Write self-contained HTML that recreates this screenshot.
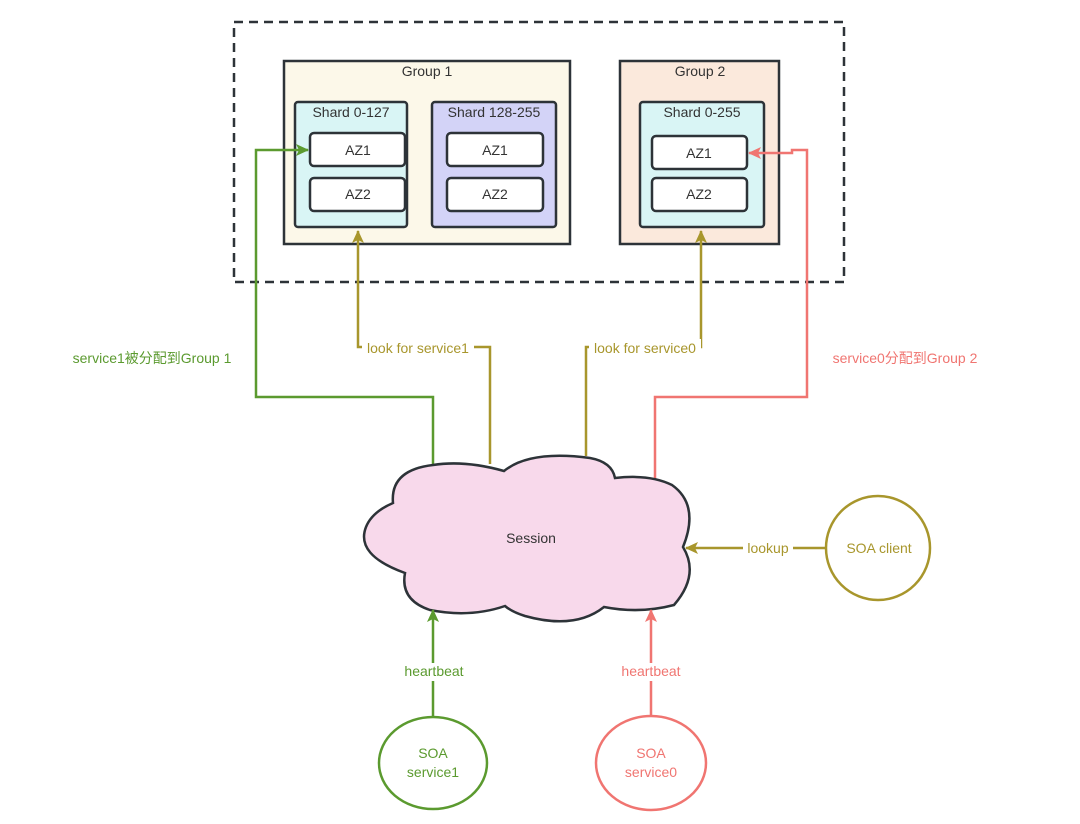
<!DOCTYPE html>
<html><head><meta charset="utf-8"><style>
html,body{margin:0;padding:0;background:#fff;}
svg{display:block;}
text{font-family:"Liberation Sans","Noto Sans CJK SC",sans-serif;font-size:14px;}
</style></head><body>
<svg width="1080" height="824" viewBox="0 0 1080 824" xmlns="http://www.w3.org/2000/svg">
<defs>
<marker id="ag" markerWidth="13" markerHeight="12" refX="12" refY="6" orient="auto" markerUnits="userSpaceOnUse"><path d="M0,0 L13,6 L0,12 L3,6 Z" fill="#5b9a2f"/></marker>
<marker id="ao" markerWidth="13" markerHeight="12" refX="12" refY="6" orient="auto" markerUnits="userSpaceOnUse"><path d="M0,0 L13,6 L0,12 L3,6 Z" fill="#a8962c"/></marker>
<marker id="ar" markerWidth="13" markerHeight="12" refX="12" refY="6" orient="auto" markerUnits="userSpaceOnUse"><path d="M0,0 L13,6 L0,12 L3,6 Z" fill="#f07571"/></marker>
</defs>
<rect x="234" y="22" width="610" height="260" fill="none" stroke="#2d3338" stroke-width="2.5" stroke-dasharray="9,6"/>
<!-- Group 1 -->
<rect x="284" y="61" width="286" height="183" fill="#fcf8e9" stroke="#2d3338" stroke-width="2.5"/>
<text x="427" y="76" text-anchor="middle" fill="#333">Group 1</text>
<rect x="295" y="102" width="112" height="125" rx="3" fill="#d9f5f5" stroke="#2d3338" stroke-width="2.5"/>
<text x="351" y="117" text-anchor="middle" fill="#333">Shard 0-127</text>
<rect x="310" y="133" width="95" height="33" rx="4" fill="#fff" stroke="#2d3338" stroke-width="2.5"/>
<text x="358" y="155" text-anchor="middle" fill="#333">AZ1</text>
<rect x="310" y="178" width="95" height="33" rx="4" fill="#fff" stroke="#2d3338" stroke-width="2.5"/>
<text x="358" y="199" text-anchor="middle" fill="#333">AZ2</text>
<rect x="432" y="102" width="124" height="125" rx="3" fill="#d3d3f7" stroke="#2d3338" stroke-width="2.5"/>
<text x="494" y="117" text-anchor="middle" fill="#333">Shard 128-255</text>
<rect x="447" y="133" width="96" height="33" rx="4" fill="#fff" stroke="#2d3338" stroke-width="2.5"/>
<text x="495" y="155" text-anchor="middle" fill="#333">AZ1</text>
<rect x="447" y="178" width="96" height="33" rx="4" fill="#fff" stroke="#2d3338" stroke-width="2.5"/>
<text x="495" y="199" text-anchor="middle" fill="#333">AZ2</text>
<!-- Group 2 -->
<rect x="620" y="61" width="159" height="183" fill="#fbe9dc" stroke="#2d3338" stroke-width="2.5"/>
<text x="700" y="76" text-anchor="middle" fill="#333">Group 2</text>
<rect x="640" y="102" width="124" height="125" rx="3" fill="#d9f5f5" stroke="#2d3338" stroke-width="2.5"/>
<text x="702" y="117" text-anchor="middle" fill="#333">Shard 0-255</text>
<rect x="652" y="136" width="95" height="33" rx="4" fill="#fff" stroke="#2d3338" stroke-width="2.5"/>
<text x="699" y="158" text-anchor="middle" fill="#333">AZ1</text>
<rect x="652" y="178" width="95" height="33" rx="4" fill="#fff" stroke="#2d3338" stroke-width="2.5"/>
<text x="699" y="199" text-anchor="middle" fill="#333">AZ2</text>
<!-- connectors -->
<polyline points="433,464 433,397 256,397 256,150 308,150" fill="none" stroke="#5b9a2f" stroke-width="2.5" marker-end="url(#ag)"/>
<polyline points="490,464 490,347 358,347 358,231" fill="none" stroke="#a8962c" stroke-width="2.5" marker-end="url(#ao)"/>
<polyline points="586,456 586,347 701,347 701,231" fill="none" stroke="#a8962c" stroke-width="2.5" marker-end="url(#ao)"/>
<polyline points="655,480 655,397 807,397 807,150 792,150 792,153 749,153" fill="none" stroke="#f07571" stroke-width="2.5" marker-end="url(#ar)"/>
<rect x="362" y="339" width="112" height="18" fill="#fff"/>
<text x="418" y="353" text-anchor="middle" fill="#a8962c">look for service1</text>
<rect x="589" y="339" width="112" height="18" fill="#fff"/>
<text x="645" y="353" text-anchor="middle" fill="#a8962c">look for service0</text>
<text x="152" y="363" text-anchor="middle" fill="#5b9a2f">service1被分配到Group 1</text>
<text x="905" y="363" text-anchor="middle" fill="#f07571">service0分配到Group 2</text>
<!-- cloud -->
<path d="M405,573 Q355,555 366,527 Q372,512 393,503 Q390,470 433,465 Q465,460 504,471 Q530,450 590,458 Q612,462 615,478 Q650,474 672,485 Q700,505 683,547 Q700,575 674,605 Q640,614 604,607 Q575,630 525,616 Q512,612 505,606 Q470,618 430,610 Q400,600 405,573 Z" fill="#f8d9eb" stroke="#2d3338" stroke-width="2.5"/>
<text x="531" y="543" text-anchor="middle" fill="#333">Session</text>
<!-- bottom -->
<line x1="433" y1="718" x2="433" y2="610" stroke="#5b9a2f" stroke-width="2.5" marker-end="url(#ag)"/>
<rect x="398" y="663" width="72" height="18" fill="#fff"/>
<text x="434" y="676" text-anchor="middle" fill="#5b9a2f">heartbeat</text>
<line x1="651" y1="716" x2="651" y2="610" stroke="#f07571" stroke-width="2.5" marker-end="url(#ar)"/>
<rect x="615" y="663" width="72" height="18" fill="#fff"/>
<text x="651" y="676" text-anchor="middle" fill="#f07571">heartbeat</text>
<line x1="826" y1="548" x2="686" y2="548" stroke="#a8962c" stroke-width="2.5" marker-end="url(#ao)"/>
<rect x="743" y="540" width="50" height="18" fill="#fff"/>
<text x="768" y="553" text-anchor="middle" fill="#a8962c">lookup</text>
<ellipse cx="878" cy="548" rx="52" ry="52" fill="#fff" stroke="#a8962c" stroke-width="2.5"/>
<text x="879" y="553" text-anchor="middle" fill="#a8962c">SOA client</text>
<ellipse cx="433" cy="763" rx="54" ry="46" fill="#fff" stroke="#5b9a2f" stroke-width="2.5"/>
<text x="433" y="758" text-anchor="middle" fill="#5b9a2f">SOA</text>
<text x="433" y="777" text-anchor="middle" fill="#5b9a2f">service1</text>
<ellipse cx="651" cy="763" rx="55" ry="47" fill="#fff" stroke="#f07571" stroke-width="2.5"/>
<text x="651" y="758" text-anchor="middle" fill="#f07571">SOA</text>
<text x="651" y="777" text-anchor="middle" fill="#f07571">service0</text>
</svg>
</body></html>
